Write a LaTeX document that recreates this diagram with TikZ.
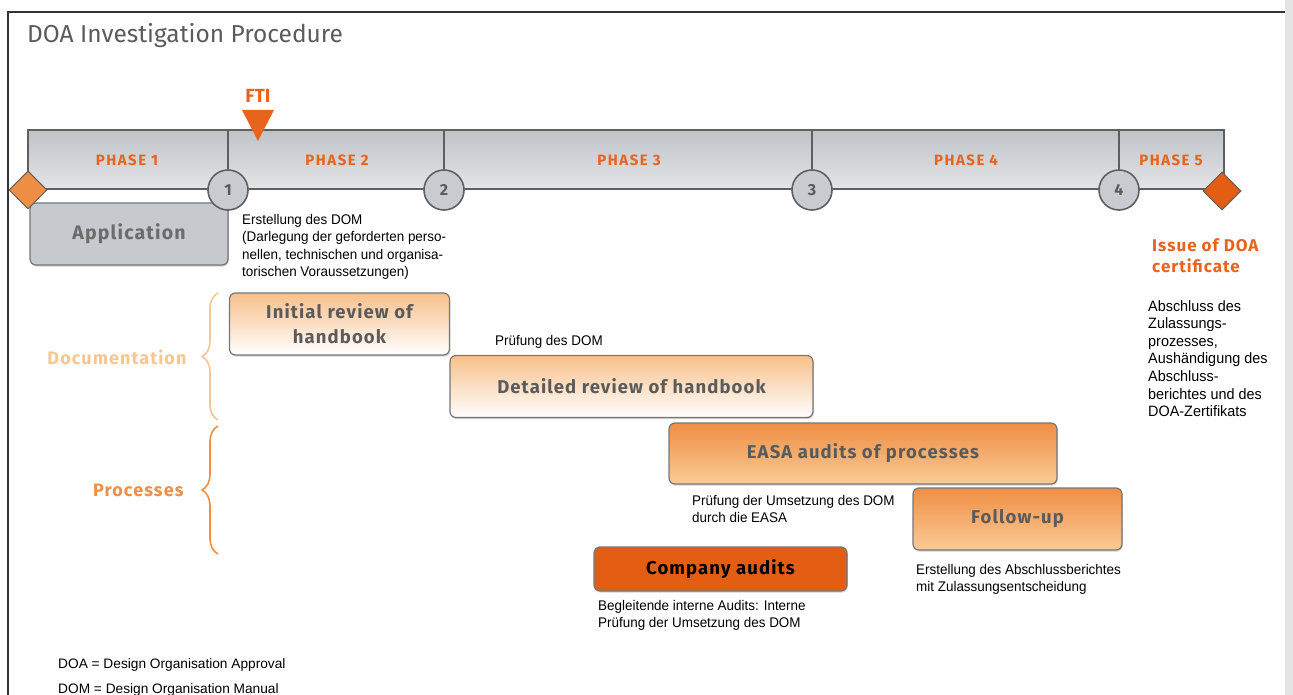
\documentclass[tikz,border=0pt]{standalone}
\usepackage{fontspec}
\setmainfont{Fira Sans}
\newfontfamily\notefont[FakeStretch=0.96]{Liberation Sans}
\newfontfamily\legendfont{Liberation Sans}
\newfontfamily\boxfamily[LetterSpace=6]{Fira Sans}
\newfontfamily\phasefamily[LetterSpace=10]{Fira Sans}
\usetikzlibrary{positioning,shapes.geometric,decorations.pathreplacing,shadows}

\definecolor{doaorange}{HTML}{E8631C}
\definecolor{doadark}{HTML}{E35D12}
\definecolor{procorange}{HTML}{EF8E45}
\definecolor{proclight}{HTML}{F9CB94}
\definecolor{docpeach}{HTML}{F7C08A}
\definecolor{docpale}{HTML}{F9C592}
\definecolor{bargrey}{HTML}{BFC3C8}
\definecolor{barlight}{HTML}{E3E4E6}
\definecolor{circlegrey}{HTML}{C8CCD1}
\definecolor{boxgrey}{HTML}{C6CACF}
\definecolor{linegrey}{HTML}{5F5F5F}
\definecolor{boxedge}{HTML}{777777}
\definecolor{textgrey}{HTML}{5B5B5B}
\definecolor{apptext}{HTML}{6B6B6B}
\definecolor{stripgrey}{HTML}{E4E4E4}

\tikzset{
  phaselabel/.style={text=doaorange, font={\phasefamily\bfseries\fontsize{15}{15}\selectfont}},
  milestone/.style={circle, draw=linegrey, line width=1.6pt, fill=circlegrey, minimum size=40pt,
    inner sep=0pt, text=textgrey, font={\bfseries\fontsize{16}{16}\selectfont}},
  gate/.style={diamond, draw=linegrey, line width=1pt, minimum size=38pt, inner sep=0pt},
  barline/.style={draw=linegrey, line width=2pt},
  stage/.style={rounded corners=6pt, draw=boxedge, line width=1.2pt, inner sep=0pt, align=center,
    text=textgrey, font={\boxfamily\bfseries\fontsize{18.5}{25}\selectfont},
    drop shadow={shadow xshift=0.8pt, shadow yshift=-1.6pt, opacity=.35}},
  docstage/.style={stage, top color=docpeach, bottom color=white},
  procstage/.style={stage, top color=procorange, bottom color=proclight},
  note/.style={anchor=north west, inner sep=0pt, align=left, font={\notefont\fontsize{14}{17.5}\selectfont}},
  grouplabel/.style={anchor=east, font={\boxfamily\bfseries\fontsize{18}{18}\selectfont}},
  groupbrace/.style={decorate, decoration={brace, amplitude=16pt}, line width=1.6pt},
}

\begin{document}
\begin{tikzpicture}[x=1pt,y=-1pt]
  \useasboundingbox (0,0) rectangle (1293,695);
  \fill[stripgrey] (1285,0) rectangle (1293,695);
  \draw[line width=1.5pt, draw=black!80] (8,695) -- (8,12) -- (1285,12);

  \node[anchor=base west, inner sep=0pt, text=textgrey, font={\fontsize{24.5}{24.5}\selectfont}] (title) at (27,43) {DOA Investigation Procedure};

  % phase bar
  \coordinate (bartop) at (0,130);
  \shade[top color=bargrey, bottom color=barlight] (28,130) rectangle (1224,189);
  \draw[barline] (28,189) -- (28,130) -- (1224,130) -- (1224,189) -- cycle;
  \foreach \n/\x in {1/127,2/337,3/629,4/966,5/1171}
    \node[phaselabel] (p\n) at (\x,160) {PHASE \n};

  \node[stage, fill=boxgrey, text=apptext, minimum width=198pt, minimum height=62pt,
    font={\boxfamily\bfseries\fontsize{19.5}{19.5}\selectfont}] (app) at (129,234) {Application};

  \foreach \n/\x in {1/228,2/444,3/812,4/1119}{
    \node[milestone] (m\n) at (\x,190) {\n};
    \draw[barline] (m\n.north) -- (m\n.north |- bartop);
  }
  \node[gate, fill=procorange] (start) at (28,190) {};
  \node[gate, fill=doadark] (finish) at (1222,191) {};

  \node[text=doaorange, font={\bfseries\fontsize{19}{19}\selectfont}] (fti) at (258,96) {FTI};
  \fill[doaorange] (242,110) -- (274,110) -- (258,141) -- cycle;

  \node[note] (domnote) at (242,214) {Erstellung des DOM\\(Darlegung der geforderten perso-\\nellen, technischen und organisa-\\torischen Voraussetzungen)};

  % groups
  \node[grouplabel, text=docpale] (doc) at (190,357) {Documentation};
  \node[grouplabel, text=procorange] (proc) at (187,490) {Processes};
  \draw[groupbrace, docpale] (218,420) -- (218,293);
  \draw[groupbrace, procorange] (218,554) -- (218,426);

  \node[docstage, minimum width=220pt, minimum height=62pt] (initial) at (339.5,324) {Initial review of\\handbook};
  \node[note] (pruefnote) at (495,335) {Prüfung des DOM};
  \node[docstage, minimum width=363pt, minimum height=62pt] (detailed) at (631.5,386.5) {Detailed review of handbook};
  \node[procstage, minimum width=388pt, minimum height=61pt] (easa) at (863,453.5) {EASA audits of processes};
  \node[note] (easanote) at (692,495) {Prüfung der Umsetzung des DOM\\durch die EASA};
  \node[procstage, minimum width=209pt, minimum height=62pt] (follow) at (1017.5,519) {Follow-up};
  \node[note] (follownote) at (916,564) {Erstellung des Abschlussberichtes\\mit Zulassungsentscheidung};
  \node[stage, fill=doadark, text=black, minimum width=253pt, minimum height=44pt] (company) at (720.5,569) {Company audits};
  \node[note] (companynote) at (598,600) {Begleitende interne Audits: Interne\\Prüfung der Umsetzung des DOM};

  \node[anchor=north west, inner sep=0pt, align=left, text=doaorange,
    font={\boxfamily\bfseries\fontsize{17}{21}\selectfont}] (issue) at (1152,238) {Issue of DOA\\certificate};
  \node[note, font={\notefont\fontsize{15}{17.6}\selectfont}] (issuenote) at (1148,300) {Abschluss des\\Zulassungs-\\prozesses,\\Aushändigung des\\Abschluss-\\berichtes und des\\DOA-Zertifikats};

  \node[anchor=north west, inner sep=0pt, align=left, font={\legendfont\fontsize{13.7}{25}\selectfont}] (legend) at (58,658)
    {DOA = Design Organisation Approval\\DOM = Design Organisation Manual};
\end{tikzpicture}
\end{document}
